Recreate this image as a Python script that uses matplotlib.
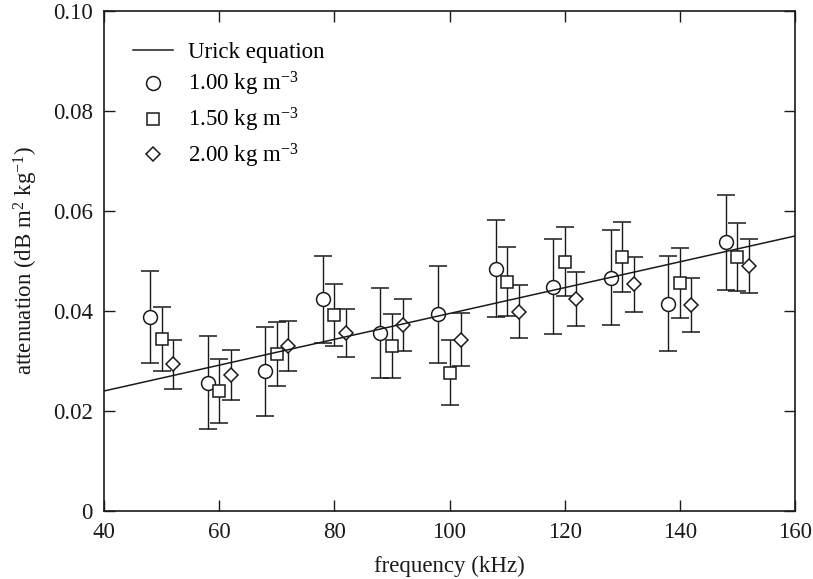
import matplotlib
matplotlib.use("Agg")
import matplotlib.pyplot as plt
from matplotlib.lines import Line2D

plt.rcParams['font.family'] = ['Liberation Serif', 'DejaVu Serif']
plt.rcParams['mathtext.fontset'] = 'custom'
plt.rcParams['mathtext.rm'] = 'Liberation Serif'
plt.rcParams['mathtext.it'] = 'Liberation Serif:italic'
plt.rcParams['mathtext.bf'] = 'Liberation Serif:bold'

# Urick equation (straight line)
urick_freq = [40, 160]
urick_att = [0.0240, 0.0550]

# 1.00 kg m^-3 (circles)
freq_100 = [48, 58, 68, 78, 88, 98, 108, 118, 128, 138, 148]
att_100 = [0.0388, 0.0257, 0.0280, 0.0424, 0.0356, 0.0394, 0.0485, 0.0449, 0.0467, 0.0415, 0.0538]
err_100 = [0.0092, 0.0093, 0.0089, 0.0087, 0.0090, 0.0097, 0.0097, 0.0095, 0.0095, 0.0095, 0.0095]

# 1.50 kg m^-3 (squares)
freq_150 = [50, 60, 70, 80, 90, 100, 110, 120, 130, 140, 150]
att_150 = [0.0344, 0.0240, 0.0315, 0.0392, 0.0331, 0.0277, 0.0459, 0.0499, 0.0508, 0.0456, 0.0509]
err_150 = [0.0064, 0.0064, 0.0064, 0.0062, 0.0064, 0.0065, 0.0069, 0.0069, 0.0070, 0.0070, 0.0068]

# 2.00 kg m^-3 (diamonds)
freq_200 = [52, 62, 72, 82, 92, 102, 112, 122, 132, 142, 152]
att_200 = [0.0294, 0.0273, 0.0331, 0.0357, 0.0373, 0.0343, 0.0399, 0.0424, 0.0454, 0.0412, 0.0491]
err_200 = [0.0049, 0.0050, 0.0050, 0.0048, 0.0052, 0.0053, 0.0053, 0.0054, 0.0055, 0.0054, 0.0054]

x_ticks = [40, 60, 80, 100, 120, 140, 160]
y_ticks = [0, 0.02, 0.04, 0.06, 0.08, 0.10]
y_tick_labels = ['0', '0.02', '0.04', '0.06', '0.08', '0.10']

labels = ['Urick equation', '1.00 kg m$^{-3}$', '1.50 kg m$^{-3}$', '2.00 kg m$^{-3}$']

ink = '#1a1a1a'
fs = 16.5

fig = plt.figure(figsize=(8.13, 5.79), dpi=100)
ax = fig.add_axes([104 / 813, 1 - 511 / 579, (795 - 104) / 813, 500 / 579])

series = [
    (freq_100, att_100, err_100, 'o', 10.0),
    (freq_150, att_150, err_150, 's', 9.0),
    (freq_200, att_200, err_200, 'D', 6.8),
]
for f, a, e, m, ms in series:
    ax.errorbar(f, a, yerr=e, fmt=m, ms=ms, mfc='white', mec=ink, mew=1.1,
                ecolor=ink, elinewidth=1.0, capsize=6.5, capthick=1.0,
                color=ink, zorder=2)

ax.plot(urick_freq, urick_att, color=ink, lw=1.1, zorder=3)

ax.set_xlim(40, 160)
ax.set_ylim(0, 0.10)
ax.set_xticks(x_ticks)
ax.set_xticklabels([str(t) for t in x_ticks])
ax.set_yticks(y_ticks)
ax.set_yticklabels(y_tick_labels)
ax.tick_params(direction='in', top=True, right=True, length=8, width=1.0,
               labelsize=fs, pad=8, colors=ink)
for s in ax.spines.values():
    s.set_linewidth(1.2)
    s.set_color(ink)

ax.set_xlabel('frequency (kHz)', fontsize=fs, color=ink)
ax.set_ylabel('attenuation (dB m$^2$ kg$^{-1}$)', fontsize=fs, color=ink)
ax.xaxis.set_label_coords(0.5, -0.09)
ax.yaxis.set_label_coords(-0.093, 0.5)

handles = [
    Line2D([], [], color=ink, lw=1.1),
    Line2D([], [], ls='none', marker='o', ms=10.0, mfc='white', mec=ink, mew=1.1),
    Line2D([], [], ls='none', marker='s', ms=9.0, mfc='white', mec=ink, mew=1.1),
    Line2D([], [], ls='none', marker='D', ms=6.8, mfc='white', mec=ink, mew=1.1),
]
ax.legend(handles, labels, loc='upper left', frameon=False, fontsize=fs,
          handlelength=1.75, handletextpad=0.65, labelspacing=0.33,
          borderaxespad=0.0, bbox_to_anchor=(0.028, 0.957))

fig.savefig('out.png', dpi=100)
